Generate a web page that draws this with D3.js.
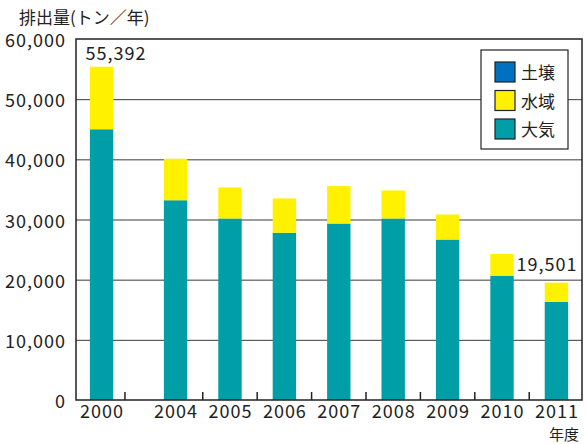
<!DOCTYPE html>
<meta charset="utf-8">
<style>
  body { margin: 0; background: #fff; }
  text { font-family: "Noto Sans CJK JP", "Noto Sans", sans-serif; fill: #222; }
</style>
<script src="https://d3js.org/d3.v7.min.js"></script>
<div id="chart"></div>
<script>
// data
var years = ["2000", "2004", "2005", "2006", "2007", "2008", "2009", "2010", "2011"];
var air   = [45000, 33200, 30170, 27800, 29330, 30170, 26670, 20670, 16330];
var water = [10392,  6900,  5160,  5700,  6220,  4660,  4160,  3610,  3171];
var soil  = [    0,     0,     0,     0,     0,     0,     0,     0,     0];
var yTicks = [0, 10000, 20000, 30000, 40000, 50000, 60000];
var labelYears = ["2000", "2011"];

var keys = ["air", "water", "soil"];
var names = {air: "大気", water: "水域", soil: "土壌"};
var colors = {air: "#009fa8", water: "#fff100", soil: "#0070c0"};

var W = 587, H = 444;
var margin = {top: 39, right: 5, bottom: 44, left: 76};
var width = W - margin.left - margin.right,
    height = H - margin.top - margin.bottom;

var svg = d3.select("#chart").append("svg")
    .attr("width", W).attr("height", H);
var g = svg.append("g")
    .attr("transform", "translate(" + margin.left + "," + margin.top + ")");

var rows = years.map(function(y, i) {
  return {year: y, air: air[i], water: water[i], soil: soil[i]};
});

// there is a wider gap between 2000 and 2004
var gap = 0.36;
function slot(i) { return i === 0 ? 0 : i + gap; }

var x = d3.scaleLinear()
  .domain([-0.47, slot(years.length - 1) + 0.47])
  .range([0, width]);
var barW = (x(1) - x(0)) * 0.43;

var y = d3.scaleLinear().domain([0, 60000]).range([height, 0]);

// gridlines
g.append("g")
  .call(d3.axisLeft(y).tickValues(yTicks.slice(1, -1)).tickSize(-width).tickFormat(""))
  .call(function(a) {
    a.select(".domain").remove();
    a.selectAll("line").attr("stroke", "#3a3a3a").attr("stroke-width", 1);
  });

// bars
var stack = d3.stack().keys(keys)(rows);
g.selectAll(".layer")
  .data(stack)
  .enter().append("g")
    .attr("fill", function(d) { return colors[d.key]; })
  .selectAll("rect")
  .data(function(d) { return d; })
  .enter().append("rect")
    .attr("x", function(d, i) { return x(slot(i)) - barW / 2; })
    .attr("y", function(d) { return y(d[1]); })
    .attr("width", barW)
    .attr("height", function(d) { return y(d[0]) - y(d[1]); });

// frame
g.append("rect")
  .attr("width", width).attr("height", height)
  .attr("fill", "none").attr("stroke", "#222").attr("stroke-width", 1.5);

// x tick marks between categories (inside)
var tickSlots = [0.43].concat(d3.range(1, years.length - 1).map(function(i) { return slot(i) + 0.5; }));
g.selectAll(".xt")
  .data(tickSlots)
  .enter().append("line")
    .attr("x1", function(d) { return x(d); })
    .attr("x2", function(d) { return x(d); })
    .attr("y1", height).attr("y2", height - 8)
    .attr("stroke", "#222").attr("stroke-width", 1.5);

// x labels
g.append("g")
  .attr("transform", "translate(0," + height + ")")
  .call(d3.axisBottom(x)
    .tickValues(years.map(function(d, i) { return slot(i); }))
    .tickFormat(function(d, i) { return years[i]; })
    .tickSize(0).tickPadding(5))
  .call(function(a) {
    a.select(".domain").remove();
    a.selectAll("text").attr("font-size", 18).attr("font-family", null)
      .attr("fill", "#222").attr("letter-spacing", 1);
  });

// y labels
g.append("g")
  .call(d3.axisLeft(y).tickValues(yTicks).tickFormat(d3.format(",")).tickSize(0).tickPadding(10))
  .call(function(a) {
    a.select(".domain").remove();
    a.selectAll("text").attr("font-size", 18).attr("font-family", null)
      .attr("fill", "#222").attr("dy", "0.42em").attr("letter-spacing", 1);
  });

// totals above first and last bars
rows.forEach(function(d, i) {
  if (labelYears.indexOf(d.year) < 0) return;
  var total = d.air + d.water + d.soil;
  var first = i === 0;
  g.append("text")
    .attr("x", first ? x(slot(i)) - 16 : x(slot(i)) + 21)
    .attr("y", first ? y(total) - 7 : y(total) - 12)
    .attr("text-anchor", first ? "start" : "end")
    .attr("font-size", 18)
    .attr("letter-spacing", 1)
    .text(d3.format(",")(total));
});

// axis titles
svg.append("text").attr("x", 19).attr("y", 24).attr("font-size", 17).text("排出量(トン／年)");
svg.append("text").attr("x", 579).attr("y", 440).attr("text-anchor", "end").attr("font-size", 15).text("年度");

// legend
var lg = svg.append("g").attr("transform", "translate(481,50)");
lg.append("rect").attr("width", 87).attr("height", 99)
  .attr("fill", "#fff").attr("stroke", "#222").attr("stroke-width", 1.2);
var items = ["soil", "water", "air"];
items.forEach(function(k, i) {
  var row = lg.append("g").attr("transform", "translate(14," + (12 + i * 28.5) + ")");
  row.append("rect").attr("width", 20).attr("height", 20)
    .attr("fill", colors[k]).attr("stroke", "#222").attr("stroke-width", 1.2);
  row.append("text").attr("x", 26).attr("y", 17).attr("font-size", 17).text(names[k]);
});
</script>
